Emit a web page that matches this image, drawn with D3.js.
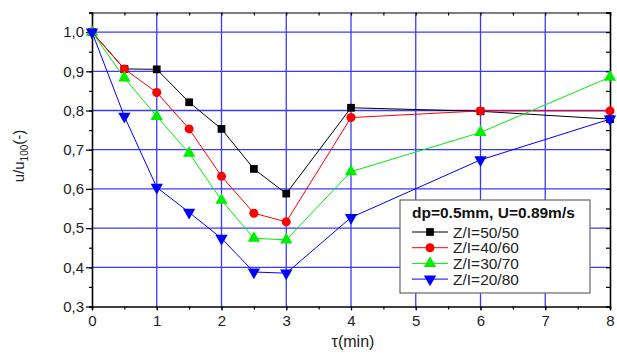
<!DOCTYPE html>
<html lang="en">
<head>
<meta charset="UTF-8">
<title>u/u100 vs tau</title>
<script src="https://d3js.org/d3.v7.min.js"></script>
<style>
  body { margin: 0; background: #fff; }
  text { font-family: "Liberation Sans", Arial, sans-serif; }
</style>
</head>
<body>
<div id="chart"></div>
<script>
  // data
  const tau = [0, 0.5, 1, 1.5, 2, 2.5, 3, 4, 6, 8];
  const z50 = [1.0, 0.906, 0.905, 0.821, 0.753, 0.651, 0.588, 0.807, 0.798, 0.778];
  const z40 = [1.0, 0.906, 0.846, 0.753, 0.632, 0.538, 0.516, 0.782, 0.799, 0.799];
  const z30 = [1.0, 0.883, 0.785, 0.691, 0.571, 0.474, 0.470, 0.644, 0.744, 0.885];
  const z20 = [1.0, 0.785, 0.604, 0.540, 0.474, 0.388, 0.385, 0.527, 0.674, 0.778];
  const seriesNames = ["Z/I=50/50", "Z/I=40/60", "Z/I=30/70", "Z/I=20/80"];
  const xTicks = [0, 1, 2, 3, 4, 5, 6, 7, 8];
  const yTicks = [0.3, 0.4, 0.5, 0.6, 0.7, 0.8, 0.9, 1.0];
  const legendTitle = "dp=0.5mm, U=0.89m/s";

  const series = [
    { name: seriesNames[0], values: z50, color: "#000000", symbol: d3.symbolSquare, size: 60, rot: 0 },
    { name: seriesNames[1], values: z40, color: "#ff0000", symbol: d3.symbolCircle, size: 64, rot: 0 },
    { name: seriesNames[2], values: z30, color: "#00ee00", symbol: d3.symbolTriangle, size: 66, rot: 0 },
    { name: seriesNames[3], values: z20, color: "#0000ff", symbol: d3.symbolTriangle, size: 66, rot: 180 }
  ];

  const width = 617, height = 356;
  const mLeft = 92, mRight = 610, mTop = 12.5, mBottom = 306.5;

  const svg = d3.select('#chart').append('svg')
    .attr('width', width).attr('height', height);

  const x = d3.scaleLinear().domain([0, 8]).range([mLeft, mRight]);
  const y = d3.scaleLinear().domain([0.3, 1.05]).range([mBottom, mTop]);

  // grid
  const grid = svg.append('g');
  grid.selectAll('line.vg')
    .data(xTicks.filter(d => d > 0 && d < 8))
    .enter().append('line')
    .attr('x1', d => x(d)).attr('x2', d => x(d))
    .attr('y1', mTop).attr('y2', mBottom)
    .attr('stroke', '#3a3aff').attr('stroke-width', 1.3);
  grid.selectAll('line.hg')
    .data(yTicks.filter(d => d > 0.3))
    .enter().append('line')
    .attr('x1', mLeft).attr('x2', mRight)
    .attr('y1', d => y(d)).attr('y2', d => y(d))
    .attr('stroke', '#3a3aff').attr('stroke-width', 1.3);

  // axes
  const fmt = d => d3.format('.1f')(d).replace('.', ',');
  const xMinor = d3.range(0, 8.01, 0.5);
  const yMinor = d3.range(0.3, 1.051, 0.05);

  svg.append('g').attr('transform', `translate(0,${mBottom})`)
    .call(d3.axisBottom(x).tickValues(xMinor).tickSize(3).tickFormat(''));
  svg.append('g').attr('transform', `translate(0,${mBottom})`)
    .call(d3.axisBottom(x).tickValues(xTicks).tickSize(4).tickPadding(5).tickFormat(d3.format('d')))
    .call(g => g.select('.domain').remove());

  svg.append('g').attr('transform', `translate(${mLeft},0)`)
    .call(d3.axisLeft(y).tickValues(yMinor).tickSize(3).tickFormat(''));
  svg.append('g').attr('transform', `translate(${mLeft},0)`)
    .call(d3.axisLeft(y).tickValues(yTicks).tickSize(6).tickPadding(2).tickFormat(fmt))
    .call(g => g.select('.domain').remove());

  svg.append('g').attr('transform', `translate(0,${mTop})`)
    .call(d3.axisBottom(x).tickValues(xMinor).tickSize(3).tickFormat(''))
    .call(g => g.select('.domain').attr('stroke', '#555'));
  svg.append('g').attr('transform', `translate(${mRight},0)`)
    .call(d3.axisLeft(y).tickValues(yMinor).tickSize(4).tickFormat(''));

  svg.selectAll('.domain').attr('stroke-width', 1.6);
  svg.selectAll('.tick line').attr('stroke-width', 1.2);
  svg.selectAll('.tick text').attr('font-size', 15).attr('fill', '#222')
    .style('font-family', '"Liberation Sans", Arial, sans-serif');

  // lines and markers
  const line = d3.line().x((d, i) => x(tau[i])).y(d => y(d));
  series.forEach(s => {
    svg.append('path').datum(s.values)
      .attr('d', line).attr('fill', 'none')
      .attr('stroke', s.color).attr('stroke-width', 1);
  });
  series.forEach(s => {
    svg.append('g').selectAll('path')
      .data(s.values).enter().append('path')
      .attr('d', d3.symbol().type(s.symbol).size(s.size))
      .attr('transform', (d, i) => `translate(${x(tau[i])},${y(d)}) rotate(${s.rot})`)
      .attr('fill', s.color);
  });

  // axis titles
  svg.append('text').attr('x', 353).attr('y', 347)
    .attr('text-anchor', 'middle').attr('font-size', 16).attr('fill', '#222')
    .text('τ(min)');
  const yt = svg.append('text')
    .attr('transform', 'translate(24,156) rotate(-90)')
    .attr('text-anchor', 'middle').attr('font-size', 15).attr('fill', '#222');
  yt.append('tspan').text('u/u');
  yt.append('tspan').attr('font-size', 10).attr('dy', 4).text('100');
  yt.append('tspan').attr('dy', -4).text('(-)');

  // legend
  const lg = svg.append('g').attr('transform', 'translate(400,200)');
  lg.append('rect').attr('width', 190).attr('height', 93)
    .attr('fill', '#fff').attr('stroke', '#666').attr('stroke-width', 1.2);
  lg.append('text').attr('x', 12).attr('y', 18)
    .attr('font-size', 15.5).attr('font-weight', 'bold').attr('fill', '#111')
    .text(legendTitle);
  series.forEach((s, i) => {
    const yy = 32 + i * 15.7;
    lg.append('line').attr('x1', 12).attr('x2', 48).attr('y1', yy).attr('y2', yy)
      .attr('stroke', s.color).attr('stroke-width', 1);
    lg.append('path')
      .attr('d', d3.symbol().type(s.symbol).size(s.size))
      .attr('transform', `translate(30,${yy}) rotate(${s.rot})`)
      .attr('fill', s.color);
    lg.append('text').attr('x', 53).attr('y', yy + 5.5)
      .attr('font-size', 15.5).attr('fill', '#222').text(s.name);
  });
</script>
</body>
</html>
